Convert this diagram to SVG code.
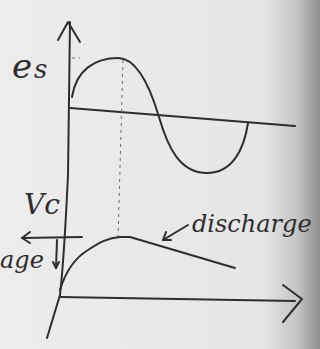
<svg xmlns="http://www.w3.org/2000/svg" width="320" height="349" viewBox="0 0 320 349">
<defs>
<linearGradient id="paper" x1="0" y1="0" x2="1" y2="0">
<stop offset="0" stop-color="#ececec"/>
<stop offset="0.82" stop-color="#e6e6e6"/>
<stop offset="0.93" stop-color="#c4c4c4"/>
<stop offset="1" stop-color="#8e8e8e"/>
</linearGradient>
<style>
.ln{fill:none;stroke:#2e2e2e;stroke-width:2;stroke-linecap:round;stroke-linejoin:round}
.fn{fill:none;stroke:#6a6a6a;stroke-width:1;stroke-dasharray:3 4}
.tx{font-family:"DejaVu Serif","Liberation Serif",serif;font-style:italic;fill:#2e2e2e}
</style>
</defs>
<rect width="320" height="349" fill="url(#paper)"/>
<g id="axes">
<path class="ln" d="M70,22 L68,175 Q64,260 60,295 L47,338"/>
<polyline class="ln" points="58,40 68,22 80,42"/>
<path class="ln" d="M70,108 L295,126"/>
<path class="ln" d="M60,297 L295,301"/>
<polyline class="ln" points="283,285 302,299 283,322"/>
</g>
<g id="guides">
<path class="fn" d="M123,60 L118,240"/>
<path class="fn" d="M72,58 L80,58"/>
</g>
<g id="es-curve">
<path class="ln" d="M72,97 C76,70 95,58 118,58 C135,58 148,80 159,117 C168,148 180,173 207,173 C232,173 244,150 248,123"/>
<text class="tx" x="12" y="78" font-size="34">e</text>
<text class="tx" x="34" y="78" font-size="26">s</text>
</g>
<g id="vc-curve">
<path class="ln" d="M60,290 C66,270 75,258 88,250 C100,242 108,238 120,237 L130,237 L235,268"/>
<text class="tx" x="24" y="214" font-size="28">Vc</text>
</g>
<g id="connectors">
<path class="ln" d="M22,238 L82,237"/>
<polyline class="ln" points="30,232 22,238 30,243"/>
<path class="ln" d="M57,240 L56,268"/>
<polyline class="ln" points="53,262 56,268 59,262"/>
<path class="ln" d="M188,225 L163,240"/>
<polyline class="ln" points="166,232 163,240 171,240"/>
</g>
<g id="labels">
<text class="tx" x="192" y="232" font-size="24">discharge</text>
<text class="tx" x="0" y="268" font-size="24">age</text>
</g>
</svg>
